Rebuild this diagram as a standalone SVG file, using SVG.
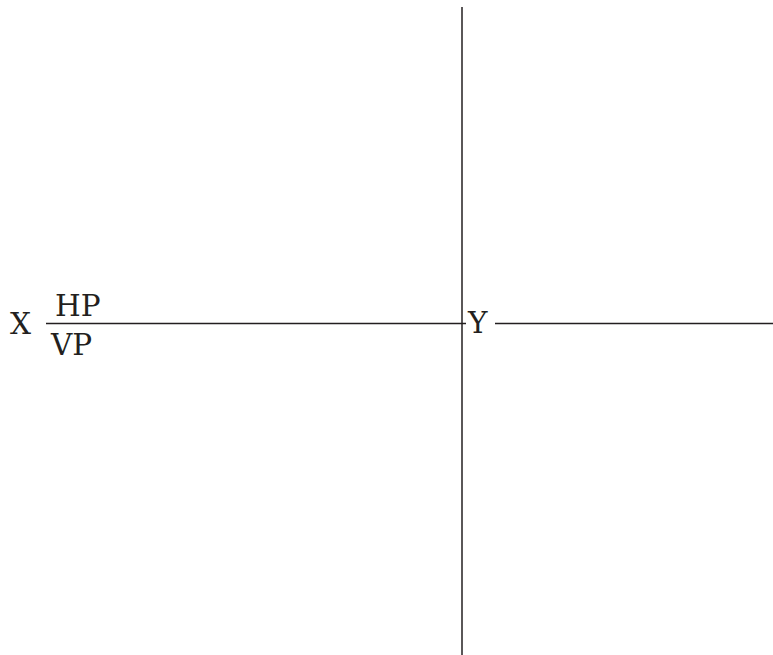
<svg xmlns="http://www.w3.org/2000/svg" width="773" height="655" viewBox="0 0 773 655">
<style>
.l{stroke:#231f20;stroke-width:1.5;fill:none}
.t{font-family:"DejaVu Serif",serif;font-size:29.5px;fill:#231f20}
</style>
<rect width="773" height="655" fill="#fff"/>
<g id="connectors">
<line class="l" x1="462" y1="7" x2="462" y2="655"/>
<line class="l" x1="46" y1="323.5" x2="466" y2="323.5"/>
<line class="l" x1="495" y1="323.5" x2="773" y2="323.5"/>
</g>
<g id="labels">
<text class="t" x="10" y="334">X</text>
<text class="t" x="55" y="316">HP</text>
<text class="t" x="51" y="355">VP</text>
<text class="t" x="468" y="333">Y</text>
</g>
</svg>
